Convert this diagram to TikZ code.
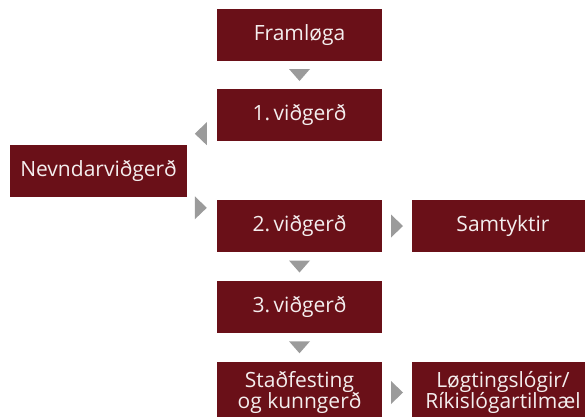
\documentclass[tikz,border=0pt]{standalone}
\usepackage{fontspec}
\setmainfont{Open Sans}
\usetikzlibrary{calc}
\definecolor{boxred}{HTML}{6A1018}
\definecolor{arrgray}{HTML}{9B9B9B}
\definecolor{boxtext}{HTML}{F4EEEE}
\begin{document}
\begin{tikzpicture}[x=1pt,y=-1pt,
  stage/.style={rectangle, fill=boxred, text=boxtext, inner sep=0pt,
    minimum width=165pt, minimum height=52pt, align=center,
    font=\fontsize{21}{21.5}\selectfont},
  tri/.style={fill=arrgray}]
\useasboundingbox (0,0) rectangle (585,416);
\node[stage] (fram) at (299.5,35) {Framløga};
\node[stage] (v1) at (299.5,115) {1.\,viðgerð};
\node[stage, minimum width=177pt] (nevnd) at (98.5,171) {Nevndarviðgerð};
\node[stage] (v2) at (299.5,226) {2.\,viðgerð};
\node[stage, minimum width=182pt] (samt) at (503,226) {Samtyktir};
\node[stage] (v3) at (299.5,307) {3.\,viðgerð};
\node[stage, minimum height=62pt] (stad) at (299.5,392.5) {Staðfesting\\og kunngerð};
\node[stage, minimum width=182pt, minimum height=62pt] (log) at (503,392.5) {Løgtingslógir/\\Ríkislógartilmæl};
% down arrows
\coordinate (d1) at ($(fram.south)!0.5!(v1.north)$);
\coordinate (d2) at ($(v2.south)!0.5!(v3.north)$);
\coordinate (d3) at ($(v3.south)!0.5!(stad.north)$);
\foreach \c in {d1,d2,d3}
  \fill[tri] ($(\c)+(-10.5,-6)$) -- ($(\c)+(10.5,-6)$) -- ($(\c)+(0,6)$) -- cycle;
% right arrows
\coordinate (r1) at ($(v2.east)!0.5!(samt.west)$);
\coordinate (r2) at ($(stad.east)!0.5!(log.west)$);
\foreach \c in {r1,r2}
  \fill[tri] ($(\c)+(-6,-11.5)$) -- ($(\c)+(-6,11.5)$) -- ($(\c)+(6,0)$) -- cycle;
% to / from Nevndarviðgerð
\coordinate (lt) at ($(v1.south west)+(-22,-7.5)$);
\fill[tri] (lt) -- ($(lt)+(12,-11.5)$) -- ($(lt)+(12,11.5)$) -- cycle;
\coordinate (rt) at ($(v2.north west)+(-10,8)$);
\fill[tri] (rt) -- ($(rt)+(-12,-11.5)$) -- ($(rt)+(-12,11.5)$) -- cycle;
\end{tikzpicture}
\end{document}
